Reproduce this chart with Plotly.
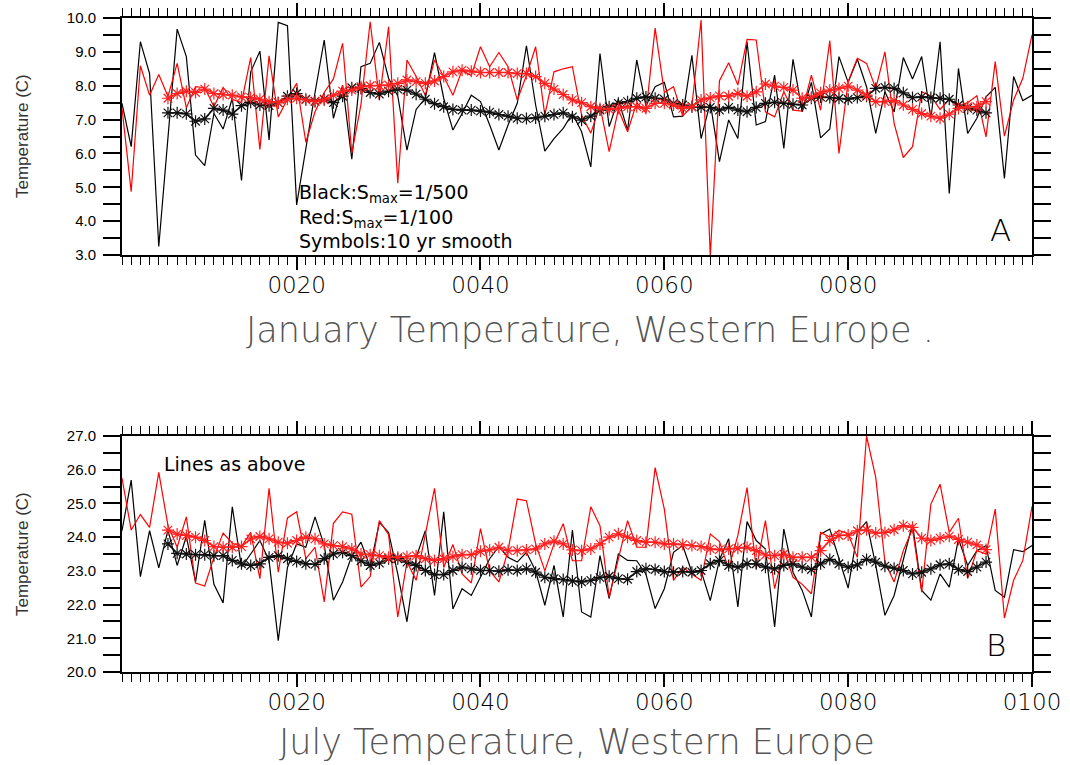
import plotly.graph_objects as go

years = list(range(1, 101))
smooth_years = list(range(6, 96))

jan_black = [7.48, 6.2, 9.3, 8.36, 3.25, 6.5, 9.67, 8.86, 5.95, 5.64,
             7.18, 6.72, 7.63, 5.2, 8.41, 9.02, 6.4, 9.87, 9.77, 4.48,
             6.2, 7.8, 9.35, 7.04, 8.02, 5.83, 8.56, 8.66, 9.28, 8.22,
             7.7, 6.1, 7.3, 7.63, 8.98, 7.63, 6.69, 7.18, 7.72, 7.53,
             6.84, 6.1, 6.84, 7.48, 9.18, 7.43, 6.07, 6.44, 6.74, 7.18,
             6.64, 5.6, 8.95, 6.79, 7.6, 6.69, 8.76, 7.4, 7.97, 8.1,
             7.08, 7.1, 8.9, 6.44, 7.5, 5.76, 6.99, 6.44, 9.3, 6.84,
             6.94, 8.31, 6.15, 8.78, 7.23, 8.1, 6.46, 6.72, 8.86, 8.1,
             8.78, 7.97, 6.59, 7.82, 7.23, 8.83, 8.2, 8.86, 7.04, 9.3,
             4.82, 8.51, 6.59, 7.04, 7.67, 7.95, 5.26, 8.27, 7.56, 7.72]

jan_red = [7.33, 4.87, 8.59, 7.72, 8.33, 7.68, 8.66, 7.35, 7.97, 7.94,
           7.38, 7.95, 7.6, 7.5, 8.83, 6.12, 8.88, 7.08, 7.6, 8.07,
           6.33, 7.23, 7.8, 8.2, 9.25, 6.0, 7.45, 9.89, 7.58, 9.74,
           5.12, 8.76, 8.27, 7.72, 8.76, 8.27, 7.72, 8.46, 8.3, 9.15,
           8.56, 8.98, 8.56, 7.58, 8.3, 9.15, 7.13, 8.41, 8.5, 8.56,
           7.13, 6.6, 7.4, 6.05, 7.3, 6.64, 7.5, 7.2, 9.7, 7.8,
           7.97, 7.1, 7.4, 9.94, 2.95, 8.15, 8.68, 8.02, 9.37, 9.35,
           7.23, 7.08, 7.82, 7.28, 7.25, 8.31, 7.28, 9.33, 6.0, 8.12,
           8.81, 8.66, 7.92, 9.0, 6.89, 5.88, 6.2, 7.82, 7.7, 7.3,
           7.6, 7.4, 7.5, 7.7, 6.49, 8.71, 6.51, 7.58, 8.22, 9.5]

jan_black_smooth = [7.2, 7.2, 7.17, 6.95, 7.02, 7.33, 7.28, 7.16, 7.41, 7.51,
                    7.43, 7.41, 7.5, 7.69, 7.77, 7.6, 7.54, 7.6, 7.5, 7.69,
                    7.94, 7.92, 7.8, 7.75, 7.84, 7.9, 7.87, 7.75, 7.6, 7.47,
                    7.38, 7.3, 7.28, 7.28, 7.25, 7.22, 7.15, 7.1, 7.04, 7.03,
                    7.05, 7.1, 7.15, 7.2, 7.08, 6.98, 7.1, 7.28, 7.38, 7.48,
                    7.53, 7.63, 7.67, 7.63, 7.6, 7.48, 7.43, 7.38, 7.37, 7.36,
                    7.28, 7.36, 7.28, 7.23, 7.36, 7.48, 7.51, 7.48, 7.45, 7.43,
                    7.63, 7.67, 7.65, 7.63, 7.6, 7.65, 7.69, 7.92, 7.95, 7.92,
                    7.79, 7.65, 7.67, 7.65, 7.63, 7.6, 7.43, 7.33, 7.28, 7.2]

jan_red_smooth = [7.63, 7.77, 7.84, 7.8, 7.9, 7.77, 7.74, 7.72, 7.67, 7.65,
                  7.6, 7.53, 7.5, 7.6, 7.63, 7.58, 7.53, 7.58, 7.72, 7.84,
                  7.87, 7.97, 8.0, 8.0, 8.02, 8.07, 8.17, 8.12, 8.07, 8.14,
                  8.27, 8.41, 8.46, 8.43, 8.39, 8.39, 8.39, 8.39, 8.36, 8.36,
                  8.27, 8.07, 7.9, 7.74, 7.58, 7.5, 7.38, 7.33, 7.3, 7.33,
                  7.38, 7.38, 7.33, 7.48, 7.48, 7.43, 7.33, 7.38, 7.58, 7.64,
                  7.7, 7.69, 7.77, 7.69, 7.82, 8.05, 7.99, 7.95, 7.87, 7.63,
                  7.66, 7.79, 7.87, 7.92, 7.99, 7.87, 7.72, 7.53, 7.53, 7.56,
                  7.43, 7.3, 7.18, 7.1, 7.04, 7.16, 7.33, 7.38, 7.38, 7.53]

jul_black = [24.19, 25.69, 22.83, 24.19, 23.09, 24.21, 23.16, 24.02, 22.67, 24.5,
             22.6, 22.05, 24.9, 23.11, 23.5, 23.9, 23.3, 20.93, 23.1, 23.8,
             23.7, 24.6, 23.75, 22.13, 22.67, 23.45, 23.85, 23.11, 24.44, 24.14,
             22.91, 21.49, 23.4, 24.19, 22.27, 24.75, 21.87, 22.47, 22.27, 22.81,
             23.36, 23.72, 23.4, 23.26, 23.55, 23.0, 21.98, 23.16, 21.63, 24.21,
             21.78, 21.63, 23.45, 22.18, 23.5, 23.31, 23.3, 22.9, 21.88, 22.47,
             23.55, 23.75, 22.96, 23.0, 22.12, 23.33, 23.95, 21.93, 24.46, 23.9,
             23.65, 21.34, 24.24, 22.96, 22.42, 21.63, 24.09, 24.24, 23.36, 22.49,
             24.14, 24.46, 23.16, 21.68, 22.27, 23.36, 24.39, 22.42, 22.13, 22.91,
             22.52, 23.95, 23.16, 23.6, 23.75, 22.42, 22.22, 23.63, 23.57, 23.75]

jul_red = [25.75, 24.21, 24.67, 24.29, 25.92, 24.34, 23.7, 24.6, 22.64, 22.55,
           23.4, 24.12, 23.82, 23.72, 24.14, 22.77, 25.45, 22.96, 24.57, 24.75,
           23.36, 23.7, 22.08, 24.41, 24.75, 24.68, 22.52, 22.83, 24.49, 24.07,
           21.63, 23.26, 22.72, 24.09, 25.45, 23.1, 23.78, 22.91, 22.64, 24.25,
           23.0, 22.67, 23.6, 25.13, 25.08, 23.8, 23.0, 23.8, 24.4, 23.3,
           23.3, 24.9, 24.34, 22.22, 23.4, 24.49, 23.7, 23.7, 26.06, 24.83,
           22.72, 23.11, 22.9, 22.72, 24.09, 23.87, 23.06, 24.05, 25.47, 23.06,
           24.49, 22.47, 23.6, 22.81, 22.6, 22.32, 24.14, 24.0, 24.2, 24.1,
           23.4, 27.0, 25.77, 23.26, 22.67, 23.6, 24.24, 22.37, 24.98, 25.57,
           24.14, 24.56, 22.77, 23.6, 23.5, 24.83, 21.6, 22.72, 23.31, 24.91]

jul_black_smooth = [23.8, 23.52, 23.5, 23.48, 23.48, 23.45, 23.45, 23.31, 23.21, 23.16,
                    23.21, 23.4, 23.45, 23.36, 23.28, 23.21, 23.19, 23.36, 23.5, 23.55,
                    23.45, 23.3, 23.16, 23.23, 23.36, 23.36, 23.26, 23.16, 23.01, 22.89,
                    22.89, 23.01, 23.11, 23.06, 23.01, 23.01, 22.99, 23.03, 23.01, 23.06,
                    22.96, 22.81, 22.77, 22.74, 22.7, 22.67, 22.72, 22.8, 22.84, 22.77,
                    22.75, 22.98, 23.06, 23.04, 22.98, 22.96, 22.98, 22.96, 23.01, 23.21,
                    23.31, 23.16, 23.11, 23.21, 23.21, 23.11, 23.06, 23.16, 23.21, 23.11,
                    23.04, 23.21, 23.34, 23.21, 23.11, 23.18, 23.34, 23.26, 23.14, 23.08,
                    23.01, 22.91, 22.96, 23.06, 23.18, 23.21, 23.04, 22.98, 23.11, 23.26]

jul_red_smooth = [24.21, 24.09, 24.05, 24.0, 23.9, 23.72, 23.7, 23.7, 23.72, 23.95,
                  24.02, 23.95, 23.85, 23.82, 23.9, 24.0, 23.95, 23.8, 23.75, 23.72,
                  23.65, 23.5, 23.48, 23.45, 23.4, 23.4, 23.42, 23.45, 23.36, 23.31,
                  23.36, 23.42, 23.48, 23.48, 23.58, 23.62, 23.7, 23.6, 23.6, 23.62,
                  23.65, 23.8, 23.88, 23.8, 23.62, 23.6, 23.65, 23.8, 24.0, 24.1,
                  24.0, 23.9, 23.85, 23.85, 23.8, 23.8, 23.78, 23.75, 23.72, 23.65,
                  23.63, 23.65, 23.67, 23.7, 23.6, 23.47, 23.45, 23.5, 23.4, 23.4,
                  23.4, 23.6, 23.9, 24.05, 24.06, 24.19, 24.22, 24.12, 24.14, 24.22,
                  24.34, 24.29, 23.97, 23.9, 23.97, 24.03, 23.93, 23.85, 23.77, 23.63]

x_tick_vals_a = [20, 40, 60, 80]
x_tick_text_a = ["0020", "0040", "0060", "0080"]
x_tick_vals_b = [20, 40, 60, 80, 100]
x_tick_text_b = ["0020", "0040", "0060", "0080", "0100"]

W, H = 1070, 765

def px(x):
    return x / W

def py(y):
    return 1 - y / H

fig = go.Figure()

def add_panel(xa, ya, black, red, bsm, rsm):
    fig.add_trace(go.Scatter(x=years, y=black, mode="lines", xaxis=xa, yaxis=ya,
                             line=dict(color="black", width=1.2), showlegend=False))
    fig.add_trace(go.Scatter(x=years, y=red, mode="lines", xaxis=xa, yaxis=ya,
                             line=dict(color="#ff0000", width=1.2), showlegend=False))
    fig.add_trace(go.Scatter(x=smooth_years, y=bsm, mode="lines+markers", xaxis=xa, yaxis=ya,
                             line=dict(color="#111111", width=1.6),
                             marker=dict(symbol="asterisk-open", size=10,
                                         line=dict(color="#333333", width=1.2)),
                             showlegend=False))
    fig.add_trace(go.Scatter(x=smooth_years, y=rsm, mode="lines+markers", xaxis=xa, yaxis=ya,
                             line=dict(color="#ff2020", width=1.6),
                             marker=dict(symbol="asterisk-open", size=10,
                                         line=dict(color="rgba(255,40,40,0.85)", width=1.2)),
                             showlegend=False))

add_panel("x", "y", jan_black, jan_red, jan_black_smooth, jan_red_smooth)
add_panel("x2", "y2", jul_black, jul_red, jul_black_smooth, jul_red_smooth)

xdom = [px(122), px(1032)]
thin = "DejaVu Sans ExtraLight, DejaVu Sans"

def xaxis_cfg(vals, text, anchor):
    return dict(domain=xdom, range=[1, 100], anchor=anchor, automargin=False,
                tickmode="array", tickvals=vals, ticktext=text,
                ticks="outside", ticklen=13, tickwidth=1.6, tickcolor="black",
                minor=dict(tickmode="linear", tick0=0, dtick=1, ticks="outside",
                           ticklen=8, tickwidth=1.1, tickcolor="black"),
                showline=True, linewidth=2, linecolor="black", mirror="allticks",
                showgrid=False, zeroline=False,
                tickfont=dict(family=thin, size=23, color="black", weight=200),
                ticklabelstandoff=-5)

def yaxis_cfg(lo, hi, dom, anchor):
    vals = [lo + i for i in range(int(hi - lo) + 1)]
    text = ["%.1f" % v for v in vals]
    return dict(domain=dom, range=[lo, hi], anchor=anchor, automargin=False,
                tickmode="array", tickvals=vals, ticktext=text,
                ticks="outside", ticklen=17, tickwidth=1.8, tickcolor="black",
                minor=dict(tickmode="linear", tick0=lo, dtick=0.5, ticks="outside",
                           ticklen=17, tickwidth=1.5, tickcolor="black"),
                showline=True, linewidth=2, linecolor="black", mirror="allticks",
                showgrid=False, zeroline=False,
                tickfont=dict(family="Liberation Sans", size=15, color="black"),
                ticklabelstandoff=4)

fig.update_layout(
    width=W, height=H,
    margin=dict(l=0, r=0, t=0, b=0, pad=0, autoexpand=False),
    paper_bgcolor="white", plot_bgcolor="white",
    xaxis=xaxis_cfg(x_tick_vals_a, x_tick_text_a, "y"),
    yaxis=yaxis_cfg(3.0, 10.0, [py(255), py(18)], "x"),
    xaxis2=xaxis_cfg(x_tick_vals_b, x_tick_text_b, "y2"),
    yaxis2=yaxis_cfg(20.0, 27.0, [py(672), py(436)], "x2"),
)

ann_font = dict(family="DejaVu Sans", size=19, color="black")
title_font = dict(family=thin, size=35, color="#555555", weight=200)
ylab_font = dict(family="Liberation Sans", size=17, color="#333333")

annotations = [
    dict(x=px(297), y=py(216), text="Black:S<sub>max</sub>=1/500<br>Red:S<sub>max</sub>=1/100<br>Symbols:10 yr smooth",
         xanchor="left", yanchor="middle", align="left", font=ann_font),
    dict(x=px(1000), y=py(230), text="A", xanchor="center", yanchor="middle",
         font=dict(family=thin, size=31, color="black", weight=200)),
    dict(x=px(162), y=py(464), text="Lines as above", xanchor="left", yanchor="middle",
         font=dict(family="DejaVu Sans", size=19, color="black")),
    dict(x=px(996), y=py(645), text="B", xanchor="center", yanchor="middle",
         font=dict(family=thin, size=31, color="black", weight=200)),
    dict(x=px(590), y=py(330), text="January Temperature, Western Europe .", xanchor="center", yanchor="middle", font=title_font),
    dict(x=px(577), y=py(742), text="July Temperature, Western Europe", xanchor="center", yanchor="middle", font=title_font),
    dict(x=px(22), y=py(136), text="Temperature (C)", textangle=-90, xanchor="center", yanchor="middle", font=ylab_font),
    dict(x=px(22), y=py(554), text="Temperature (C)", textangle=-90, xanchor="center", yanchor="middle", font=ylab_font),
]
for a in annotations:
    a.update(xref="paper", yref="paper", showarrow=False)
fig.update_layout(annotations=annotations)

fig.write_html("out.html")
